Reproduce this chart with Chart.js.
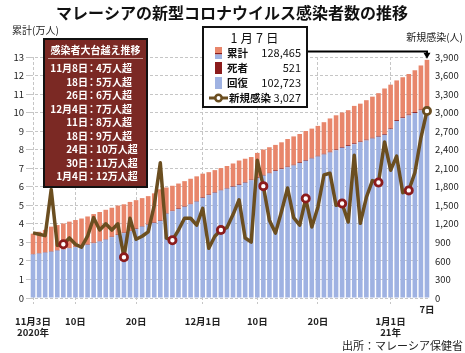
<!DOCTYPE html>
<html><head><meta charset="utf-8">
<script src="https://cdn.jsdelivr.net/npm/chart.js@4/dist/chart.umd.min.js"></script>
<style>html,body{margin:0;padding:0;background:#fff;}canvas{display:block;}</style>
</head><body>
<canvas id="c" width="465" height="353"></canvas>
<script>
// ---- data ----
const categories = [
 '11/3','11/4','11/5','11/6','11/7','11/8','11/9','11/10','11/11','11/12','11/13','11/14','11/15','11/16','11/17','11/18','11/19','11/20','11/21','11/22','11/23','11/24','11/25','11/26','11/27','11/28','11/29','11/30',
 '12/1','12/2','12/3','12/4','12/5','12/6','12/7','12/8','12/9','12/10','12/11','12/12','12/13','12/14','12/15','12/16','12/17','12/18','12/19','12/20','12/21','12/22','12/23','12/24','12/25','12/26','12/27','12/28','12/29','12/30','12/31',
 '1/1','1/2','1/3','1/4','1/5','1/6','1/7'];
const totalCases = [
 34700,35732,36741,38496,39348,40217,41189,42058,42880,43980,
 45280,46380,47580,48680,49880,50540,51830,52780,53880,54950,
 56450,58638,59608,60543,61743,63033,64323,65623,67073,67878,
 68978,70078,71218,72568,74158,75128,76033,78263,80073,81333,
 82583,83983,85763,87163,88463,90073,91373,92843,94833,96853,
 98553,100083,101313,103623,104833,106700,108615,110485,113010,115078,
 117373,119077,120818,122845,125438,128465];
const recovered = [
 23500,24000,24500,25000,25600,26200,26800,27400,28000,28700,
 29500,30500,31500,32800,34000,35000,36000,37200,38500,39500,
 40500,41500,45500,46800,48000,49200,50500,52000,54000,55500,
 56800,58000,59000,60000,61000,62200,63500,64800,66000,67200,
 68500,69500,70500,71500,72800,74000,75200,76300,77400,78500,
 79700,81000,82000,83000,84000,85000,86000,87000,88000,91000,
 95500,97000,98500,99800,101200,102723];
const deaths = [
 265,268,270,274,277,282,285,288,292,295,
 297,299,300,302,303,305,308,311,318,321,
 322,326,329,335,345,347,351,353,355,357,
 364,370,375,380,384,387,388,392,398,398,
 402,404,407,411,415,416,417,420,422,427,
 431,434,439,442,445,449,451,455,471,474,
 479,482,496,500,510,521];
const newCases = [
 1054,1032,1009,1755,852,869,972,869,822,1000,
 1300,1100,1200,1100,1200,660,1290,950,1000,1070,
 1500,2188,970,935,1100,1290,1290,1180,1450,805,
 1000,1100,1140,1350,1590,970,905,2230,1810,1260,
 1050,1400,1780,1300,1180,1610,1150,1470,1990,2020,
 1500,1530,1230,2310,1210,1630,1900,1870,2525,2068,
 2295,1704,1741,2027,2593,3027];
const milestoneDates = ['11/8','11/18','11/26','12/4','12/11','12/18','12/24','12/30','1/4'];
const milestoneLabels = ['11月8日','18日','26日','12月4日','11日','18日','24日','30日','1月4日'];
const milestoneLevels = ['4万人超','5万人超','6万人超','7万人超','8万人超','9万人超','10万人超','11万人超','12万人超'];
const xTickLabels = {
 '11/3': ['', '11月3日', '2020年'],
 '11/10': ['', '10日'],
 '11/20': ['', '20日'],
 '12/1': ['', '12月1日'],
 '12/10': ['', '10日'],
 '12/20': ['', '20日'],
 '1/1': ['', '1月1日', '21年'],
 '1/7': ['7日']
};
const xGridDates = ['11/3','11/10','11/20','12/1','12/10','12/20','1/1'];

// ---- styles ----
const FONT = '"Noto Sans CJK JP","Noto Sans",sans-serif';
const C_ACTIVE = '#e8866b', C_DEATH = '#8c1c1c', C_REC = '#9fb2e2', C_LINE = '#6b4e20', C_GRID = '#c6c6c6';
const last = categories.length - 1;
const markerIdx = milestoneDates.map(d => categories.indexOf(d)).concat([last]);

const overlay = {
  id: 'overlay',
  afterDraw(chart) {
    const ctx = chart.ctx;
    ctx.save();
    ctx.textBaseline = 'middle';
    // title
    ctx.fillStyle = '#111';
    ctx.font = 'bold 16px ' + FONT;
    ctx.textAlign = 'center';
    ctx.fillText('マレーシアの新型コロナウイルス感染者数の推移', 232, 13);
    // unit labels
    ctx.font = '10px ' + FONT;
    ctx.fillStyle = '#222';
    ctx.textAlign = 'left';
    ctx.fillText('累計(万人)', 12, 30);
    ctx.textAlign = 'right';
    ctx.fillText('新規感染(人)', 463, 37);
    ctx.font = '11px ' + FONT;
    ctx.fillText('出所：マレーシア保健省', 463, 346);

    // left milestone box
    const bx = 44, by = 39, bw = 103, bh = 148;
    ctx.fillStyle = '#7b2924';
    ctx.fillRect(bx, by, bw, bh);
    ctx.lineWidth = 2; ctx.strokeStyle = '#111';
    ctx.strokeRect(bx, by, bw, bh);
    ctx.fillStyle = '#fff';
    ctx.font = 'bold 10px ' + FONT;
    ctx.textAlign = 'center';
    ctx.fillText('感染者大台越え推移', bx + bw / 2, 50);
    ctx.strokeStyle = '#c9a19b'; ctx.lineWidth = 1;
    ctx.beginPath(); ctx.moveTo(48, 58.5); ctx.lineTo(143, 58.5); ctx.stroke();
    ctx.font = 'bold 10px ' + FONT;
    milestoneLabels.forEach((lab, i) => {
      const y = 68.5 + i * 13.5;
      ctx.textAlign = 'right'; ctx.fillText(lab, 88, y);
      ctx.textAlign = 'center'; ctx.fillText('：', 91.5, y);
      ctx.textAlign = 'left'; ctx.fillText(milestoneLevels[i], 96, y);
    });

    // right legend box
    const lx = 203, ly = 27, lw = 104, lh = 80;
    ctx.fillStyle = '#fff'; ctx.fillRect(lx, ly, lw, lh);
    ctx.lineWidth = 2; ctx.strokeStyle = '#111'; ctx.strokeRect(lx, ly, lw, lh);
    ctx.fillStyle = '#111';
    ctx.font = '12.5px ' + FONT;
    ctx.textAlign = 'center';
    try { ctx.letterSpacing = '3px'; } catch (e) {}
    ctx.fillText(categories[last].split('/')[0] + '月' + categories[last].split('/')[1] + '日', 256, 38);
    try { ctx.letterSpacing = '0px'; } catch (e) {}
    const rows = [
      ['累計', totalCases[last]], ['死者', deaths[last]], ['回復', recovered[last]], ['新規感染', newCases[last]]
    ];
    const ry = [53, 68, 83, 98];
    // swatches
    ctx.fillStyle = C_ACTIVE; ctx.fillRect(215, 47, 7, 6);
    ctx.fillStyle = C_DEATH; ctx.fillRect(215, 53, 7, 1.5);
    ctx.fillStyle = C_REC; ctx.fillRect(215, 54.5, 7, 4.5);
    ctx.fillStyle = C_DEATH; ctx.fillRect(215, 62, 7, 12);
    ctx.fillStyle = C_REC; ctx.fillRect(215, 77, 7, 12);
    ctx.strokeStyle = C_LINE; ctx.lineWidth = 3;
    ctx.beginPath(); ctx.moveTo(209, 98); ctx.lineTo(228, 98); ctx.stroke();
    ctx.beginPath(); ctx.arc(218.5, 98, 3.2, 0, Math.PI * 2);
    ctx.fillStyle = '#fff'; ctx.fill(); ctx.lineWidth = 2.5; ctx.stroke();
    rows.forEach((r, i) => {
      ctx.fillStyle = '#111';
      ctx.font = 'bold 10.5px ' + FONT;
      ctx.textAlign = 'left';
      ctx.fillText(r[0], i === 3 ? 229 : 227, ry[i]);
      ctx.font = '11px ' + FONT;
      ctx.textAlign = 'right';
      ctx.fillText(r[1].toLocaleString('en-US'), 301, ry[i]);
    });

    // arrow to last bar
    const bar = chart.getDatasetMeta(3).data[last];
    const ax = bar.x, ay = bar.y - 1;
    ctx.strokeStyle = '#000'; ctx.lineWidth = 2;
    ctx.beginPath(); ctx.moveTo(lx + lw + 1, 51.5); ctx.lineTo(ax, 51.5); ctx.lineTo(ax, ay - 5); ctx.stroke();
    ctx.fillStyle = '#000';
    ctx.beginPath(); ctx.moveTo(ax - 3.5, ay - 6); ctx.lineTo(ax + 3.5, ay - 6); ctx.lineTo(ax, ay); ctx.closePath(); ctx.fill();
    ctx.restore();
  }
};

Chart.defaults.font.family = FONT;
Chart.defaults.color = '#222';

new Chart(document.getElementById('c'), {
  data: {
    labels: categories,
    datasets: [
      { type: 'line', label: '新規感染', data: newCases, yAxisID: 'y2', order: 0,
        borderColor: C_LINE, borderWidth: 3.5, tension: 0, borderJoinStyle: 'round',
        pointRadius: categories.map((_, i) => markerIdx.includes(i) ? 3.6 : 0),
        pointBackgroundColor: '#fff',
        pointBorderColor: categories.map((_, i) => i === last ? C_LINE : C_DEATH),
        pointBorderWidth: 2.8 },
      { type: 'bar', label: '回復', data: recovered.map(v => v / 1e4), yAxisID: 'y', stack: 's', order: 1,
        backgroundColor: C_REC, barPercentage: 0.76, categoryPercentage: 1 },
      { type: 'bar', label: '死者', data: deaths.map(v => v / 1e4), yAxisID: 'y', stack: 's', order: 1,
        backgroundColor: C_DEATH, barPercentage: 0.76, categoryPercentage: 1 },
      { type: 'bar', label: '累計', data: totalCases.map((v, i) => (v - recovered[i] - deaths[i]) / 1e4), yAxisID: 'y', stack: 's', order: 1,
        backgroundColor: C_ACTIVE, barPercentage: 0.76, categoryPercentage: 1 }
    ]
  },
  options: {
    responsive: false, animation: false, devicePixelRatio: 1, events: [],
    layout: { padding: { top: 57, left: 0, right: 0, bottom: 0 } },
    plugins: { legend: { display: false }, tooltip: { enabled: false }, title: { display: false } },
    scales: {
      x: {
        stacked: true, offset: true,
        grid: { offset: false, drawOnChartArea: true, tickLength: 6,
          color: c => xGridDates.includes(categories[c.index]) ? C_GRID : 'rgba(0,0,0,0)',
          tickColor: c => xGridDates.includes(categories[c.index]) ? C_GRID : 'rgba(0,0,0,0)',
          tickBorderDash: [2, 2] },
        border: { display: false, dash: [3, 2] },
        ticks: { autoSkip: false, maxRotation: 0, padding: 0, color: '#222',
          font: { size: 9.5, weight: 'bold' },
          callback: (v, i) => xTickLabels[categories[i]] || '' },
        afterFit: s => { s.height = 55; }
      },
      y: {
        position: 'left', stacked: true, min: 0, max: 13,
        grid: { color: C_GRID, tickLength: 4 },
        border: { display: false, dash: [3, 2] },
        ticks: { stepSize: 1, padding: 2, font: { size: 9.5 }, color: '#222' },
        afterFit: s => { s.width = 30; }
      },
      y2: {
        position: 'right', min: 0, max: 3900,
        grid: { display: false, drawTicks: false },
        border: { display: false },
        ticks: { stepSize: 300, padding: 5, font: { size: 9.5 }, color: '#222',
          callback: v => v.toLocaleString('en-US') },
        afterFit: s => { s.width = 35; }
      }
    }
  },
  plugins: [overlay]
});
</script>
</body></html>
